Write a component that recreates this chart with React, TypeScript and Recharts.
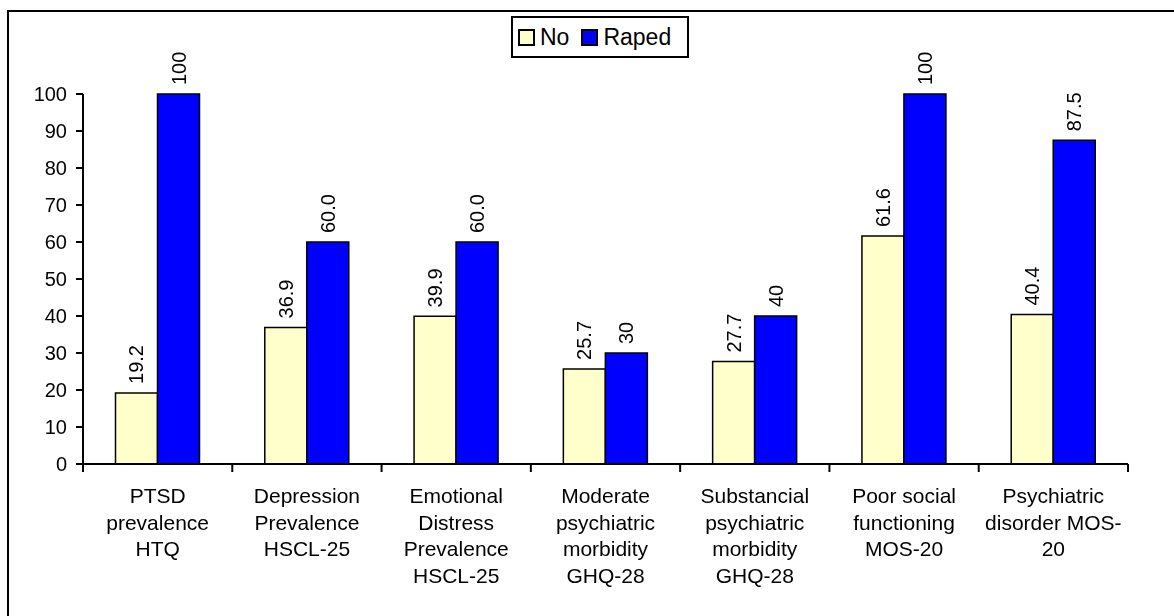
import { BarChart, Bar, XAxis, YAxis, Legend, LabelList } from "recharts";

const FONT = '"Liberation Sans", Arial, sans-serif';

// categories (line breaks as in the original)
const categories = [
  "PTSD\nprevalence\nHTQ",
  "Depression\nPrevalence\nHSCL-25",
  "Emotional\nDistress\nPrevalence\nHSCL-25",
  "Moderate\npsychiatric\nmorbidity\nGHQ-28",
  "Substancial\npsychiatric\nmorbidity\nGHQ-28",
  "Poor social\nfunctioning\nMOS-20",
  "Psychiatric\ndisorder MOS-\n20",
];
const noValues = [19.2, 36.9, 39.9, 25.7, 27.7, 61.6, 40.4];
const rapedValues = [100, 60.0, 60.0, 30, 40, 100, 87.5];
const noLabels = ["19.2", "36.9", "39.9", "25.7", "27.7", "61.6", "40.4"];
const rapedLabels = ["100", "60.0", "60.0", "30", "40", "100", "87.5"];
const yTicks = [0, 10, 20, 30, 40, 50, 60, 70, 80, 90, 100];

const data = categories.map((name, i) => ({
  name,
  no: noValues[i],
  raped: rapedValues[i],
  noLabel: noLabels[i],
  rapedLabel: rapedLabels[i],
}));

const X_TICK = 8;

// category label + tick marks on the band edges
function CategoryTick(props: any) {
  const { x, y, payload, index, width, visibleTicksCount } = props;
  const band = width / visibleTicksCount;
  const axisY = y - X_TICK;
  const lines = String(payload.value).split("\n");
  return (
    <g>
      <line x1={x - band / 2} x2={x - band / 2} y1={axisY} y2={y} stroke="#000" strokeWidth={2} />
      {index === visibleTicksCount - 1 && (
        <line x1={x + band / 2} x2={x + band / 2} y1={axisY} y2={y} stroke="#000" strokeWidth={2} />
      )}
      <text x={x} y={y} textAnchor="middle" fontSize={21} fontFamily={FONT} fill="#000">
        {lines.map((l, i) => (
          <tspan key={i} x={x} dy={i === 0 ? 31 : 26.7}>
            {l}
          </tspan>
        ))}
      </text>
    </g>
  );
}

function RotatedLabel(props: any) {
  const { x, y, width, value } = props;
  const cx = x + width / 2;
  const ty = y - 9;
  return (
    <text
      x={cx}
      y={ty}
      transform={`rotate(-90, ${cx}, ${ty})`}
      textAnchor="start"
      dominantBaseline="central"
      fontSize={20}
      fontFamily={FONT}
      fill="#000"
    >
      {value}
    </text>
  );
}

function LegendBox({ payload }: any) {
  return (
    <div
      style={{
        boxSizing: "border-box",
        width: 178,
        height: 42,
        border: "2px solid #000",
        background: "#fff",
        display: "flex",
        alignItems: "center",
        paddingLeft: 5,
        fontFamily: FONT,
        fontSize: 23,
        color: "#000",
      }}
    >
      {(payload || []).map((entry: any, i: number) => (
        <div key={i} style={{ display: "flex", alignItems: "center", marginLeft: i === 0 ? 0 : 12 }}>
          <span
            style={{
              boxSizing: "border-box",
              width: 17,
              height: 17,
              border: "2px solid #000",
              background: entry.color,
              marginRight: 5,
            }}
          />
          <span>{entry.value}</span>
        </div>
      ))}
    </div>
  );
}

export default function App() {
  return (
    <div style={{ position: "relative", width: 1158, height: 600 }}>
      {/* frame: only top and left edges are visible */}
      <div
        style={{
          position: "fixed",
          left: 7,
          top: 10,
          width: 1300,
          height: 800,
          borderTop: "2px solid #000",
          borderLeft: "2px solid #000",
          pointerEvents: "none",
        }}
      />
      <BarChart
        width={1158}
        height={600}
        data={data}
        margin={{ top: 86, right: 38, bottom: 0, left: 0 }}
        barCategoryGap={32.5}
        barGap={0}
      >
        <XAxis
          dataKey="name"
          height={144}
          interval={0}
          tickLine={false}
          tickSize={X_TICK}
          tickMargin={0}
          axisLine={{ stroke: "#000", strokeWidth: 2 }}
          tick={<CategoryTick />}
        />
        <YAxis
          width={75}
          domain={[0, 100]}
          ticks={yTicks}
          interval={0}
          tickSize={7}
          tickMargin={9}
          axisLine={{ stroke: "#000", strokeWidth: 2 }}
          tickLine={{ stroke: "#000", strokeWidth: 2 }}
          tick={{ fill: "#000", fontSize: 20, fontFamily: FONT }}
        />
        <Legend
          layout="horizontal"
          verticalAlign="middle"
          align="center"
          content={<LegendBox />}
          wrapperStyle={{ top: 8, left: 503, width: 178, height: 42 }}
        />
        <Bar dataKey="no" name="No" fill="#FFFFCC" stroke="#000" strokeWidth={1.5} isAnimationActive={false}>
          <LabelList dataKey="noLabel" content={<RotatedLabel />} />
        </Bar>
        <Bar dataKey="raped" name="Raped" fill="#0000FF" stroke="#000" strokeWidth={1.5} isAnimationActive={false}>
          <LabelList dataKey="rapedLabel" content={<RotatedLabel />} />
        </Bar>
      </BarChart>
    </div>
  );
}
